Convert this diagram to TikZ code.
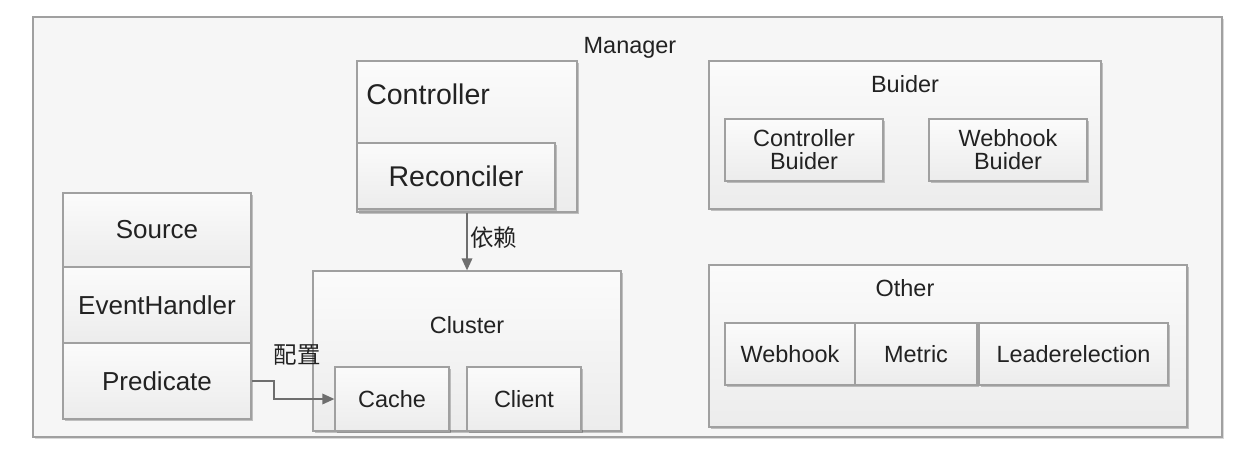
\documentclass[tikz,border=0pt]{standalone}
\usepackage{fontspec}
\setmainfont{Liberation Sans}
\newfontfamily\cjk{Noto Sans CJK SC}
\usetikzlibrary{shadows,arrows.meta}
\definecolor{bord}{RGB}{160,160,160}
\definecolor{boxtop}{RGB}{251,251,251}
\definecolor{boxbot}{RGB}{236,236,236}
\definecolor{outerfill}{RGB}{246,246,246}
\definecolor{txt}{RGB}{34,34,34}
\definecolor{arrc}{RGB}{110,110,110}
\tikzset{
  box/.style={draw=bord, line width=1pt, top color=boxtop, bottom color=boxbot,
    inner sep=0pt, text=txt, rectangle,
    drop shadow={shadow xshift=1.6pt, shadow yshift=-1.6pt, opacity=0.22, fill=black}},
  outerbox/.style={draw=bord, line width=1.1pt, fill=outerfill, inner sep=0pt,
    drop shadow={shadow xshift=1.6pt, shadow yshift=-1.6pt, opacity=0.15, fill=black}},
  lbl/.style={text=txt, inner sep=0pt},
  fbig/.style={font=\fontsize{21.4}{24}\selectfont},
  fmid/.style={font=\fontsize{19.5}{22}\selectfont},
  fsmall/.style={font=\fontsize{17.6}{17.3}\selectfont},
  arr/.style={draw=arrc, line width=1pt, -{Triangle[length=9pt,width=8pt]}},
  sz/.style 2 args={minimum width=#1, minimum height=#2},
}
\begin{document}
\begin{tikzpicture}[x=0.75pt,y=-0.75pt]
\useasboundingbox (0,0) rectangle (1246,460);
% outer manager
\node[outerbox, sz={891.75pt}{315pt}] (mgr) at (627.5,227) {};
\node[lbl, fsmall] (mgrlbl) at (630,48) {Manager};

% controller
\node[box, sz={165pt}{113.25pt}] (ctrl) at (467,136.5) {};
\node[lbl, fbig, anchor=west] (ctrllbl) at (366,94) {Controller};
\node[box, fbig, sz={148.5pt}{49.5pt}] (rec) at (456,176) {Reconciler};

% left column
\node[box, fmid, sz={141pt}{55.5pt}] (src) at (157,230) {Source};
\node[box, fmid, sz={141pt}{57pt}] (evh) at (157,305) {EventHandler};
\node[box, fmid, sz={141pt}{57pt}] (pred) at (157,381) {Predicate};

% cluster
\node[box, sz={231pt}{120pt}] (cluster) at (467,351) {};
\node[lbl, fsmall] (clusterlbl) at (467,325) {Cluster};
\node[box, fsmall, sz={85.5pt}{48pt}] (cache) at (392,399) {Cache};
\node[box, fsmall, sz={85.5pt}{48pt}] (client) at (524,399) {Client};

% builder
\node[box, sz={294pt}{111pt}] (builder) at (905,135) {};
\node[lbl, fsmall] (builderlbl) at (905,84) {Buider};
\node[box, fsmall, align=center, sz={118.5pt}{46.5pt}] (cb) at (804,150) {Controller\\Buider};
\node[box, fsmall, align=center, sz={118.5pt}{46.5pt}] (wb) at (1008,150) {Webhook\\Buider};

% other
\node[box, sz={358.5pt}{121.5pt}] (other) at (948,346) {};
\node[lbl, fsmall] (otherlbl) at (905,288) {Other};
\node[box, fsmall, sz={97.5pt}{46.5pt}] (webhook) at (790,354) {Webhook};
\node[box, fsmall, sz={91.5pt}{46.5pt}] (metric) at (916,354) {Metric};
\node[box, fsmall, sz={141.75pt}{46.5pt}] (leader) at (1073.5,354) {Leaderelection};

% connectors
\draw[arr] (cluster.north |- ctrl.south) -- (cluster.north);
\node[lbl, fsmall, anchor=west] (dep) at (470,238) {\cjk 依赖};

\coordinate (bend) at (274,390);
\draw[arr] (pred.east) -| (bend) |- (cache.west);
\node[lbl, fsmall] (cfg) at (297,355) {\cjk 配置};
\end{tikzpicture}
\end{document}
